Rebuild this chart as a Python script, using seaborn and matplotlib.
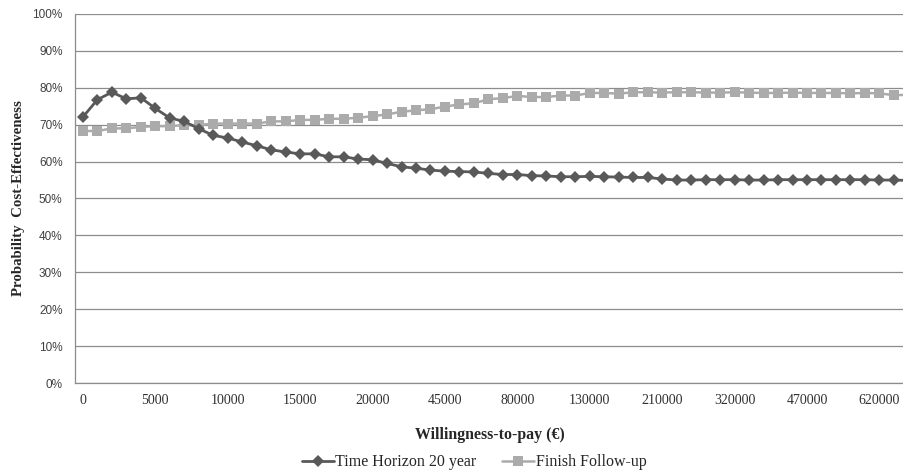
import numpy as np
import matplotlib
matplotlib.use("Agg")
import matplotlib.pyplot as plt
from matplotlib.ticker import FixedLocator, PercentFormatter
import seaborn as sns

# willingness-to-pay categories (only every 5th one is labelled in the chart)
wtp = [0, 1000, 2000, 3000, 4000, 5000, 6000, 7000, 8000, 9000, 10000,
       11000, 12000, 13000, 14000, 15000, 16000, 17000, 18000, 19000, 20000,
       25000, 30000, 35000, 40000, 45000,
       52000, 59000, 66000, 73000, 80000,
       90000, 100000, 110000, 120000, 130000,
       146000, 162000, 178000, 194000, 210000,
       232000, 254000, 276000, 298000, 320000,
       350000, 380000, 410000, 440000, 470000,
       500000, 530000, 560000, 590000, 620000,
       650000, 680000]

time_horizon = [72.1, 76.8, 78.8, 77.0, 77.3, 74.4, 71.8, 70.9, 68.9, 67.1,
                66.4, 65.3, 64.3, 63.2, 62.6, 62.1, 62.1, 61.3, 61.3, 60.7,
                60.5, 59.5, 58.6, 58.2, 57.7, 57.4, 57.3, 57.2, 56.8, 56.5,
                56.5, 56.2, 56.1, 55.9, 55.9, 56.0, 55.9, 55.8, 55.7, 55.7,
                55.3, 55.0, 55.0, 55.1, 55.1, 55.1, 55.0, 55.0, 55.1, 55.1,
                55.1, 55.1, 55.1, 55.1, 55.1, 55.0, 55.0, 54.9]

finish_followup = [68.3, 68.3, 69.0, 69.0, 69.4, 69.6, 69.6, 69.9, 69.9, 70.3,
                   70.3, 70.3, 70.3, 70.9, 70.9, 71.3, 71.3, 71.6, 71.6, 71.9,
                   72.3, 72.8, 73.5, 73.9, 74.2, 74.9, 75.5, 75.8, 76.9, 77.2,
                   77.8, 77.5, 77.5, 77.9, 77.9, 78.6, 78.6, 78.4, 78.8, 78.8,
                   78.7, 78.8, 78.8, 78.7, 78.7, 78.8, 78.7, 78.6, 78.6, 78.7,
                   78.6, 78.6, 78.6, 78.5, 78.6, 78.5, 78.0, 78.1]

sns.set_style("white")
plt.rcParams['font.family'] = ['Liberation Serif', 'DejaVu Serif']

fig = plt.figure(figsize=(9.04, 4.72), dpi=100)
ax = fig.add_axes([75 / 904, 89 / 472, 1 - 75 / 904, 369 / 472])

pos = np.arange(len(wtp))
sns.lineplot(x=pos, y=finish_followup, ax=ax, color="#ababab", marker="s",
             markersize=7, markeredgewidth=0, linewidth=1.8, label="Finish Follow-up")
sns.lineplot(x=pos, y=time_horizon, ax=ax, color="#595959", marker="D",
             markersize=6.5, markeredgewidth=0, linewidth=2.0, label="Time Horizon 20 year")

ax.set_ylim(0, 100)
ax.set_xlim(-0.55, 56.7)
ax.yaxis.set_major_locator(FixedLocator(np.arange(0, 101, 10)))
ax.yaxis.set_major_formatter(PercentFormatter(decimals=0))
ax.grid(axis="y", color="#8c8c8c", linewidth=0.9)
ax.set_axisbelow(True)

label_idx = [i for i in range(0, len(wtp), 5) if i <= 55]
ax.set_xticks(label_idx)
ax.set_xticklabels([str(wtp[i]) for i in label_idx], fontsize=10)
ax.set_xticks([i - 0.5 for i in label_idx], minor=True)
ax.tick_params(axis="x", which="major", length=0, pad=8)
ax.tick_params(axis="x", which="minor", length=4, color="#8c8c8c", direction="out")
ax.tick_params(axis="y", length=5, color="#8c8c8c", direction="out", pad=4)
for t in ax.get_yticklabels():
    t.set_family("Liberation Sans")
    t.set_fontsize(8.5)
    t.set_color("#404040")
for t in ax.get_xticklabels():
    t.set_color("#303030")

for s in ["top", "right"]:
    ax.spines[s].set_visible(False)
for s in ["left", "bottom"]:
    ax.spines[s].set_color("#8c8c8c")
    ax.spines[s].set_linewidth(0.9)

ax.set_ylabel("Probability  Cost-Effectiveness", fontsize=10.7, fontweight="bold", labelpad=5)
ax.set_xlabel("Willingness-to-pay (€)", fontsize=11.4, fontweight="bold", labelpad=14)

handles, labels = ax.get_legend_handles_labels()
ax.legend(handles[::-1], labels[::-1], loc="center", bbox_to_anchor=(474 / 904, 9.5 / 472),
          bbox_transform=fig.transFigure, ncol=2, frameon=False, fontsize=11.5,
          handlelength=2.0, columnspacing=1.6, handletextpad=0.1, borderpad=0)

fig.savefig("out.png", dpi=100)
